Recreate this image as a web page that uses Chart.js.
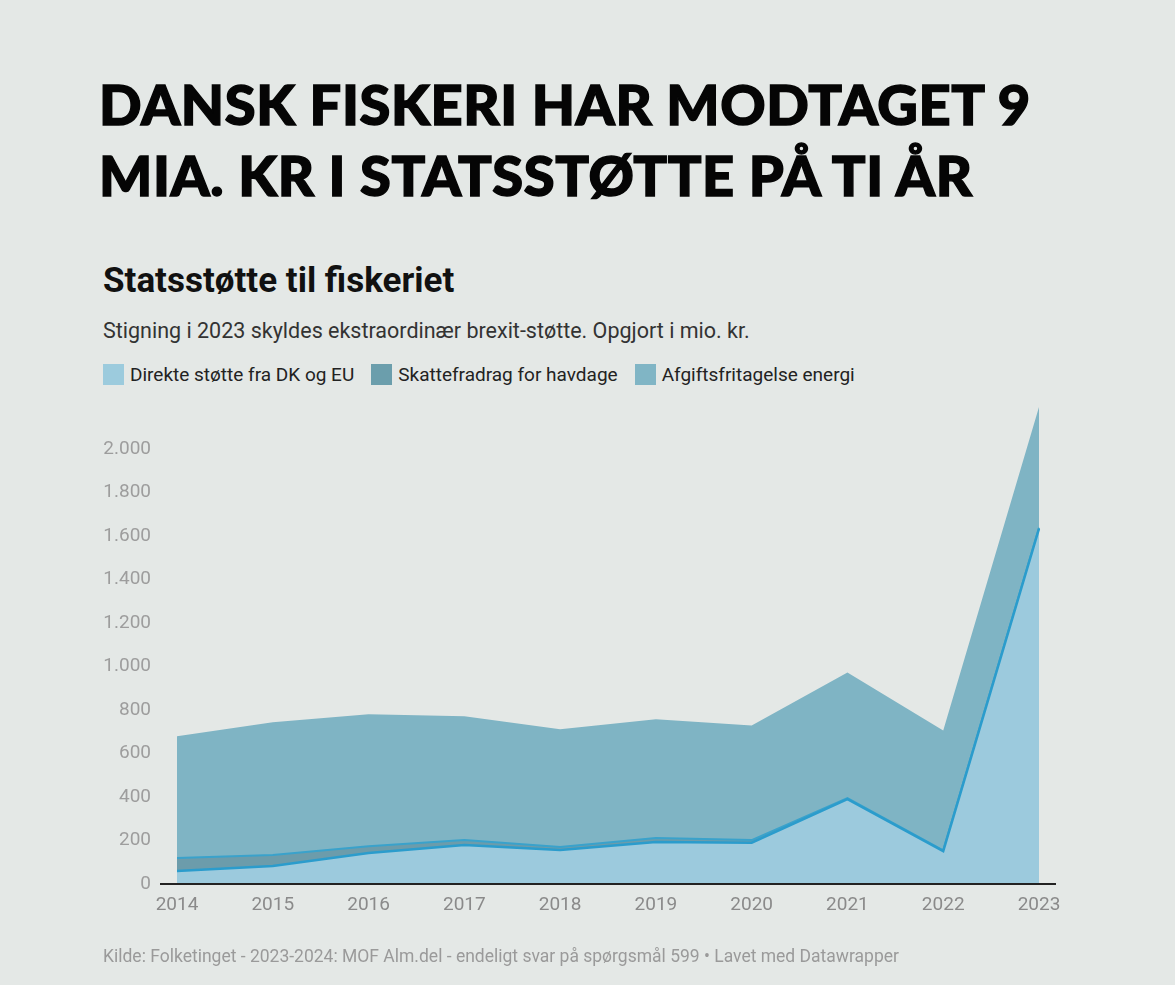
<!DOCTYPE html>
<html lang="da">
<head>
<meta charset="utf-8">
<script src="https://cdn.jsdelivr.net/npm/chart.js@4/dist/chart.umd.min.js"></script>
<style>
  html, body { margin: 0; padding: 0; }
  body {
    width: 1175px; height: 985px; position: relative; overflow: hidden;
    background: #e4e8e6; font-family: Roboto, "Noto Sans", sans-serif;
  }
  #headline {
    position: absolute; left: 99px; top: 68px; margin: 0;
    font-family: Lato, sans-serif; font-weight: 900; font-size: 56px;
    line-height: 71px; color: #050505; letter-spacing: 0.6px;
    -webkit-text-stroke: 1.4px #050505;
  }
  #title {
    position: absolute; left: 103px; top: 260px; margin: 0;
    font-size: 35px; font-weight: 700; color: #111;
  }
  #subtitle {
    position: absolute; left: 103px; top: 318px;
    font-size: 21.5px; color: #333;
  }
  #legend {
    position: absolute; left: 103px; top: 363px; display: flex;
    font-size: 19px; color: #222;
  }
  .item { display: flex; align-items: center; margin-right: 17px; }
  .box { width: 21px; height: 21px; margin-right: 6px; }
  #wrap { position: absolute; left: 0; top: 368px; width: 1175px; height: 583px; }
  #footer {
    position: absolute; left: 103px; top: 946px;
    font-size: 17.5px; color: #9a9a9a;
  }
</style>
</head>
<body>
<h1 id="headline">DANSK FISKERI HAR MODTAGET 9<br>MIA. KR I STATSSTØTTE PÅ TI ÅR</h1>
<h2 id="title">Statsstøtte til fiskeriet</h2>
<div id="subtitle">Stigning i 2023 skyldes ekstraordinær brexit-støtte. Opgjort i mio. kr.</div>
<div id="legend"></div>
<div id="wrap"><canvas id="chart"></canvas></div>
<div id="footer">Kilde: Folketinget - 2023-2024: MOF Alm.del - endeligt svar på spørgsmål 599 • Lavet med Datawrapper</div>

<script>
// mio. kr.
const years = ["2014", "2015", "2016", "2017", "2018", "2019", "2020", "2021", "2022", "2023"];
const direkte = [60, 83, 142, 179, 156, 193, 190, 390, 151, 1633];
const skattefradrag = [59, 50, 32, 23, 14, 18, 12, 5, 4, 5];
const afgift = [560, 610, 606, 569, 541, 546, 527, 577, 551, 555];
const yTicks = [0, 200, 400, 600, 800, 1000, 1200, 1400, 1600, 1800, 2000];

const series = [
  { label: "Direkte støtte fra DK og EU", data: direkte, fill: "#9ccadd", line: "#2b9ccc", width: 2.5, box: "#9ccbdd" },
  { label: "Skattefradrag for havdage", data: skattefradrag, fill: "#6c9cab", line: "#3aa2cb", width: 2, box: "#6b9eac" },
  { label: "Afgiftsfritagelse energi", data: afgift, fill: "#7fb4c4", line: "rgba(0,0,0,0)", width: 0, box: "#80b5c5" },
];

document.getElementById("legend").innerHTML = series
  .map((s) => `<div class="item"><span class="box" style="background:${s.box}"></span>${s.label}</div>`)
  .join("");

const fmt = (v) => String(v).replace(/\B(?=(\d{3})+(?!\d))/g, ".");

const baseline = {
  id: "baseline",
  afterDatasetsDraw(chart) {
    const { ctx, chartArea, scales } = chart;
    const y = scales.y.getPixelForValue(0);
    ctx.save();
    ctx.strokeStyle = "#222";
    ctx.lineWidth = 2;
    ctx.beginPath();
    ctx.moveTo(chartArea.left - 17, y);
    ctx.lineTo(chartArea.right + 17, y);
    ctx.stroke();
    ctx.restore();
  },
};

new Chart(document.getElementById("chart"), {
  type: "line",
  data: {
    labels: years,
    datasets: series.map((s, i) => ({
      label: s.label,
      data: s.data,
      backgroundColor: s.fill,
      borderColor: s.line,
      borderWidth: s.width,
      fill: i === 0 ? "origin" : "-1",
      pointRadius: 0,
      tension: 0,
      order: i,
    })),
  },
  options: {
    responsive: true,
    maintainAspectRatio: false,
    animation: false,
    layout: { padding: { left: 100, right: 136, top: 13, bottom: 27 } },
    plugins: { legend: { display: false }, tooltip: { enabled: false } },
    scales: {
      x: {
        offset: false,
        grid: { display: false, drawTicks: false },
        border: { display: false },
        ticks: { color: "#8a8a8a", font: { family: "Roboto", size: 19 }, padding: 10, maxRotation: 0 },
        afterFit: (s) => { s.height = 40; },
      },
      y: {
        stacked: true,
        min: 0,
        max: 2200,
        grid: { display: false, drawTicks: false },
        border: { display: false },
        afterBuildTicks: (s) => { s.ticks = yTicks.map((v) => ({ value: v })); },
        ticks: {
          color: "#9d9d9d",
          font: { family: "Roboto", size: 19 },
          padding: 26,
          callback: (v) => fmt(v),
        },
        afterFit: (s) => { s.width = 77; },
      },
    },
  },
  plugins: [baseline],
});
</script>
</body>
</html>
